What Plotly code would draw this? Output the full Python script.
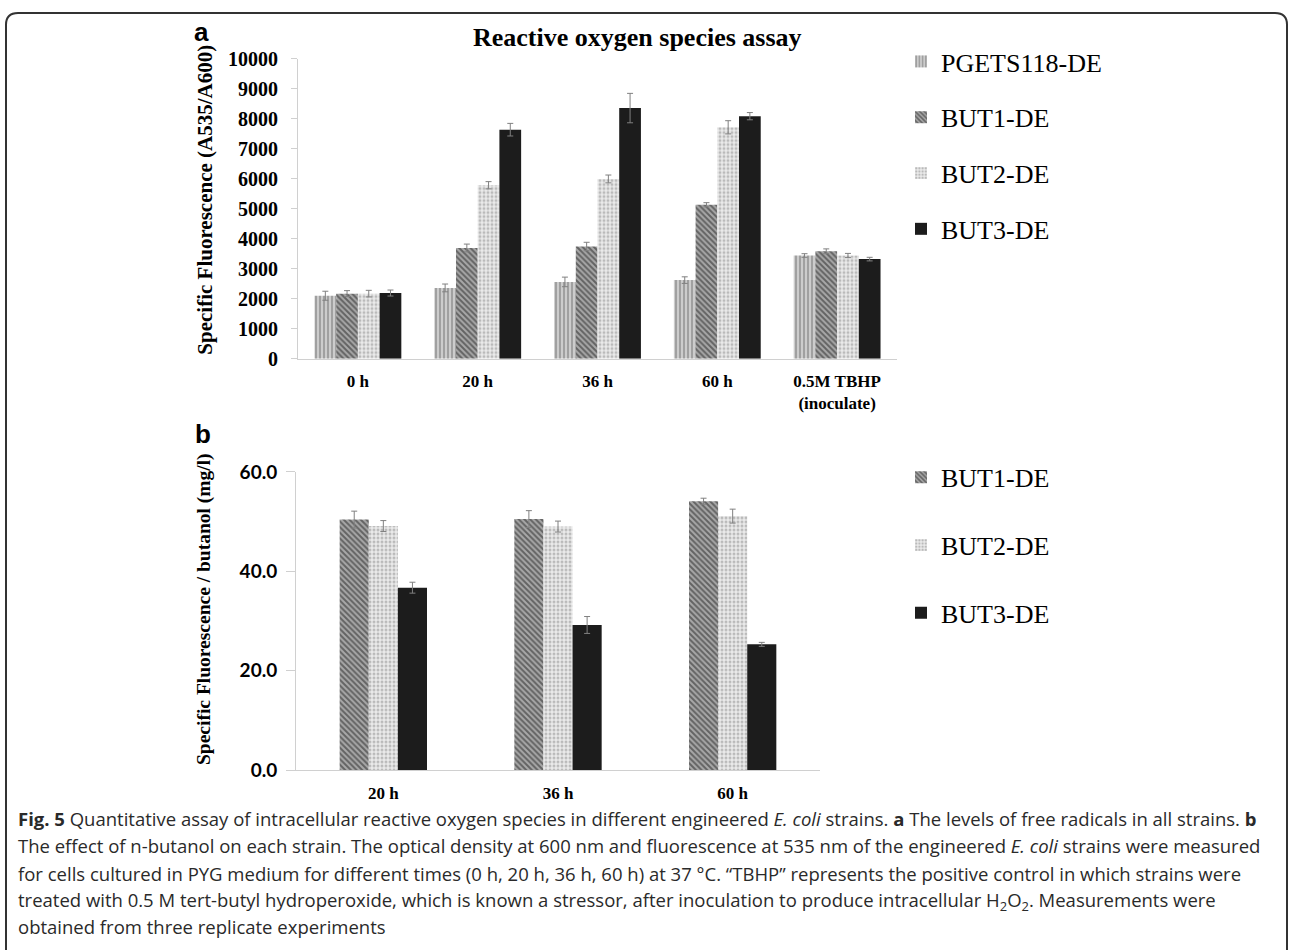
import plotly.graph_objects as go

W, H = 1290, 950


def px(x):
    return x / W


def py(y):
    # target image y (pixels from top) -> paper fraction (calibrated for the viewer)
    return 1 - ((y - 12.5) / 0.975) / H


# ---------------- data ----------------
cats_a = ["0 h", "20 h", "36 h", "60 h", "0.5M TBHP<br>(inoculate)"]
pgets_a = [2100, 2360, 2560, 2620, 3440]
pgets_a_err = [150, 130, 160, 110, 60]
but1_a = [2170, 3690, 3740, 5130, 3580]
but1_a_err = [100, 130, 140, 70, 80]
but2_a = [2170, 5780, 5990, 7710, 3440]
but2_a_err = [110, 120, 130, 220, 70]
but3_a = [2190, 7630, 8350, 8080, 3320]
but3_a_err = [100, 210, 490, 120, 60]

cats_b = ["20 h", "36 h", "60 h"]
but1_b = [50.4, 50.5, 54.1]
but1_b_err = [1.7, 1.7, 0.6]
but2_b = [49.1, 49.0, 51.1]
but2_b_err = [1.1, 1.1, 1.4]
but3_b = [36.7, 29.2, 25.3]
but3_b_err = [1.1, 1.7, 0.4]

ticks_a = [0, 1000, 2000, 3000, 4000, 5000, 6000, 7000, 8000, 9000, 10000]
ticks_b = [0, 20, 40, 60]

# ---------------- styles ----------------
styles = {
    "PGETS118-DE": dict(shape="|", fgcolor="#6a6a6a", bgcolor="#cccccc", size=4, solidity=0.45),
    "BUT1-DE": dict(shape="\\", fgcolor="#1e1e1e", bgcolor="#a8a8a8", size=4, solidity=0.5),
    "BUT2-DE": dict(shape=".", fgcolor="#8a8a8a", bgcolor="#ebebeb", size=4, solidity=0.45),
    "BUT3-DE": dict(shape="", fgcolor="#1c1c1c", bgcolor="#1c1c1c", size=4, solidity=0.5),
}
solid = {"PGETS118-DE": "#b0b0b0", "BUT1-DE": "#5e5e5e", "BUT2-DE": "#cfcfcf", "BUT3-DE": "#1c1c1c"}
ERR = "#808080"
SERIF = "Liberation Serif"

fig = go.Figure()


def add_bar(name, cats, vals, errs, xa, ya, legend, group, width=None, offset=None):
    st = styles[name]
    kw = {}
    if width is not None:
        kw["width"] = width
        kw["offset"] = offset
    fig.add_trace(go.Bar(
        name=name, x=cats, y=vals,
        xaxis=xa, yaxis=ya, legend=legend, legendgroup=group,
        marker=dict(color=solid[name], pattern=st, line=dict(width=0)),
        error_y=dict(type="data", array=errs, color=ERR, thickness=1, width=3),
        **kw,
    ))


add_bar("PGETS118-DE", cats_a, pgets_a, pgets_a_err, "x", "y", "legend", "a1")
add_bar("BUT1-DE", cats_a, but1_a, but1_a_err, "x", "y", "legend", "a2")
add_bar("BUT2-DE", cats_a, but2_a, but2_a_err, "x", "y", "legend", "a3")
add_bar("BUT3-DE", cats_a, but3_a, but3_a_err, "x", "y", "legend", "a4")

bw = 1 / 6
add_bar("BUT1-DE", cats_b, but1_b, but1_b_err, "x2", "y2", "legend2", "b1", bw, -1.5 * bw)
add_bar("BUT2-DE", cats_b, but2_b, but2_b_err, "x2", "y2", "legend2", "b2", bw, -0.5 * bw)
add_bar("BUT3-DE", cats_b, but3_b, but3_b_err, "x2", "y2", "legend2", "b3", bw, 0.5 * bw)

AX = "#d0d0d0"

fig.update_layout(
    width=W, height=H,
    margin=dict(l=0, r=0, t=0, b=0),
    paper_bgcolor="white", plot_bgcolor="white",
    barmode="group", bargap=0.275, bargroupgap=0,
    showlegend=True,
    xaxis=dict(domain=[px(298), px(897)], anchor="y", showgrid=False,
               showline=True, linecolor=AX, linewidth=1, ticks="",
               tickfont=dict(family=SERIF, size=17, color="black", weight="bold"),
               ticklabelstandoff=7),
    yaxis=dict(domain=[py(359), py(59)], anchor="x", range=[0, 10000],
               tickvals=ticks_a, tickformat="d", showgrid=False, zeroline=False,
               showline=True, linecolor=AX, linewidth=1, ticks="outside",
               ticklen=6, tickcolor=AX,
               tickfont=dict(family=SERIF, size=20, color="black", weight="bold"),
               ticklabelstandoff=9),
    xaxis2=dict(domain=[px(296), px(820)], anchor="y2", showgrid=False,
                showline=True, linecolor=AX, linewidth=1, ticks="",
                tickfont=dict(family=SERIF, size=17, color="black", weight="bold"),
                ticklabelstandoff=7),
    yaxis2=dict(domain=[py(770), py(472)], anchor="x2", range=[0, 60],
                tickvals=ticks_b, tickformat=".1f", showgrid=False, zeroline=False,
                showline=True, linecolor=AX, linewidth=1, ticks="outside",
                ticklen=9, tickcolor=AX,
                tickfont=dict(family="Lato", size=19, color="black", weight="bold"),
                ticklabelstandoff=5),
    legend=dict(x=px(901), y=py(38.5), xanchor="left", yanchor="top",
                traceorder="grouped", tracegroupgap=19,
                font=dict(family=SERIF, size=26, color="black"),
                bgcolor="rgba(0,0,0,0)", itemwidth=30),
    legend2=dict(x=px(901), y=py(454), xanchor="left", yanchor="top",
                 traceorder="grouped", tracegroupgap=31,
                 font=dict(family=SERIF, size=26, color="black"),
                 bgcolor="rgba(0,0,0,0)", itemwidth=30),
)

ann = []
ann.append(dict(text="<b>Reactive oxygen species assay</b>", x=px(637), y=py(38),
                font=dict(family=SERIF, size=26, color="black")))
ann.append(dict(text="<b>a</b>", x=px(201), y=py(32),
                font=dict(family="Liberation Sans", size=26, color="black")))
ann.append(dict(text="<b>b</b>", x=px(203), y=py(434),
                font=dict(family="Liberation Sans", size=26, color="black")))
ann.append(dict(text="<b>Specific Fluorescence (A535/A600)</b>", x=px(205), y=py(200),
                textangle=-90, font=dict(family=SERIF, size=21, color="black")))
ann.append(dict(text="<b>Specific Fluorescence / butanol (mg/l)</b>", x=px(204), y=py(609),
                textangle=-90, font=dict(family=SERIF, size=19.5, color="black")))

cap_lines = [
    "<b>Fig. 5</b> Quantitative assay of intracellular reactive oxygen species in different engineered <i>E. coli</i> strains. <b>a</b> The levels of free radicals in all strains. <b>b</b>",
    "The effect of n-butanol on each strain. The optical density at 600 nm and fluorescence at 535 nm of the engineered <i>E. coli</i> strains were measured",
    "for cells cultured in PYG medium for different times (0 h, 20 h, 36 h, 60 h) at 37 °C. “TBHP” represents the positive control in which strains were",
    "treated with 0.5 M tert-butyl hydroperoxide, which is known a stressor, after inoculation to produce intracellular H<sub>2</sub>O<sub>2</sub>. Measurements were",
    "obtained from three replicate experiments",
]
cap_y = [818, 845.5, 873, 900.5, 926]
for t, yy in zip(cap_lines, cap_y):
    ann.append(dict(text=t, x=px(16), y=py(yy), xanchor="left",
                    font=dict(family="Open Sans", size=18.5, color="#2a2a2a")))

for a in ann:
    a.setdefault("xanchor", "center")
    a.update(xref="paper", yref="paper", yanchor="middle", showarrow=False)
fig.update_layout(annotations=ann)

# rounded frame (top edge as high as the canvas allows)
x0, x1, r = 6, 1287, 12
top = 0.999
bot = -0.05
rx, ry = r / W, r / H
path = (f"M {px(x0)},{bot} L {px(x0)},{top - ry} "
        f"Q {px(x0)},{top} {px(x0) + rx},{top} "
        f"L {px(x1) - rx},{top} Q {px(x1)},{top} {px(x1)},{top - ry} "
        f"L {px(x1)},{bot}")
fig.add_shape(type="path", path=path, xref="paper", yref="paper",
              line=dict(color="#333333", width=2))

post = ("document.body.style.margin='0';document.body.style.overflow='hidden';"
        "var gd=document.getElementById('{plot_id}');"
        "gd.style.position='absolute';gd.style.left='0px';gd.style.top='0px';")
fig.write_html("out.html", post_script=post, config={"displayModeBar": False})
